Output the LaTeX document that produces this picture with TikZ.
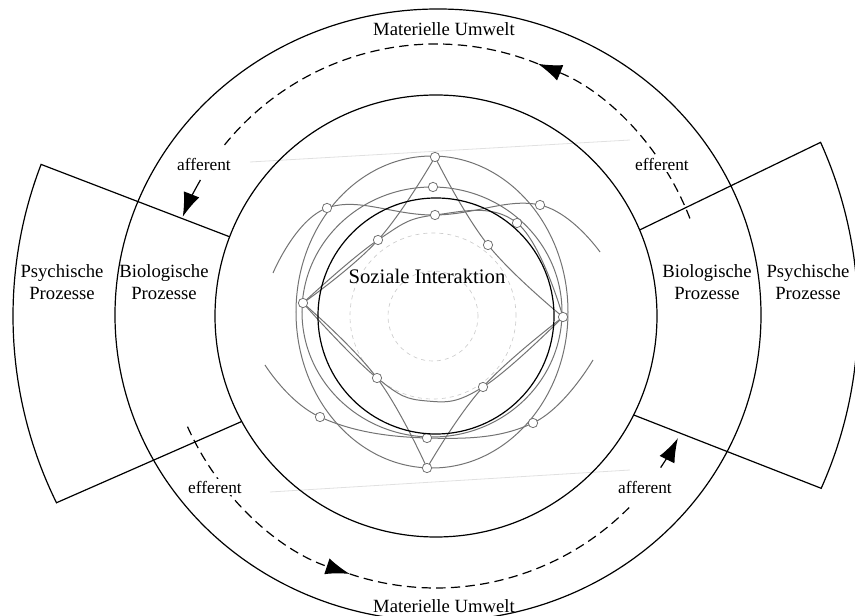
\documentclass[tikz,border=0pt]{standalone}
\usepackage{fontspec}
\setmainfont{Liberation Serif}
\usetikzlibrary{arrows.meta,positioning}

\begin{document}
\begin{tikzpicture}[x=0.75pt, y=0.75pt, line width=0.9pt,
    every node/.style={font=\fontsize{14}{17}\selectfont, align=center},
    flowlbl/.style={font=\fontsize{13}{15}\selectfont, fill=white, inner sep=1pt},
    flowline/.style={dash pattern=on 7pt off 4pt},
    headed/.style={-{Latex[length=18pt, width=12.5pt]}},
    webline/.style={black!55, line width=0.75pt},
    webknot/.style={draw=black!55, fill=white, circle, inner sep=0pt, minimum size=7pt, line width=0.6pt}]
    \useasboundingbox (-436,-300) rectangle (419,316);

    % scanned interaction web
    \draw[black!12, line width=0.6pt] (-186,154) -- (194,176);
    \draw[black!12, line width=0.6pt] (-166,-176) -- (194,-154);
    \draw[black!20, dashed, line width=0.5pt] (-3,0) circle[radius=83];
    \draw[black!20, dashed, line width=0.5pt] (-3,0) circle[radius=45];
    \draw[webline] (-4,4) ellipse[x radius=136, y radius=156];
    \draw[webline] (-4,4) ellipse[x radius=130, y radius=125];
    \draw[webline] plot[smooth, tension=0.7] coordinates {(-163,43) (-109,108) (-1,101) (104,111) (164,64)};
    \draw[webline] plot[smooth, tension=0.7] coordinates {(-171,-49) (-116,-101) (-9,-122) (97,-107) (157,-44)};
    \draw[webline] plot[smooth, tension=0.7] coordinates {(-1,159) (-58,76) (-133,13)};
    \draw[webline] plot[smooth, tension=0.7] coordinates {(-1,159) (52,71) (127,-1)};
    \draw[webline] plot[smooth, tension=0.7] coordinates {(-9,-152) (-59,-62) (-133,13)};
    \draw[webline] plot[smooth, tension=0.7] coordinates {(-9,-152) (47,-71) (127,-1)};
    \draw[webline] plot[smooth, tension=0.7] coordinates {(-133,13) (-58,76) (-1,101) (81,93) (127,-1)};
    \draw[webline] plot[smooth, tension=0.7] coordinates {(-133,13) (-59,-62) (-9,-85) (47,-71) (127,-1)};
    \foreach \p in {(-1,159),(-3,129),(-109,108),(104,111),(-58,76),(52,71),(-133,13),(127,-1),
                    (-59,-62),(47,-71),(-116,-101),(97,-107),(-9,-122),(-9,-152),(-1,101),(81,93)}
        \node[webknot] at \p {};

    % rings
    \draw (2,1) ellipse[x radius=323, y radius=306];
    \draw (0,0) circle[radius=221];
    \draw (0,0) circle[radius=118];

    % side sectors
    \draw (159:221) -- (159:423) arc[start angle=159, end angle=206.2, radius=423] -- (208.5:221);
    \draw (22.9:221) -- (24.3:422) arc[start angle=24.3, end angle=-24.1, radius=422] -- (-26.6:221);

    \node (umweltTop) at (8,287) {Materielle Umwelt};
    \node (umweltBot) at (8,-290) {Materielle Umwelt};
    \node[font=\fontsize{15.5}{18}\selectfont] (sozial) at (-9,40) {Soziale Interaktion};
    \node (psychL) at (-374,34) {Psychische\\Prozesse};
    \node (bioL) at (-272,34) {Biologische\\Prozesse};
    \node (bioR) at (271,34) {Biologische\\Prozesse};
    \node (psychR) at (372,34) {Psychische\\Prozesse};

    % flows through the environment
    \draw[flowline, headed] (21:272) arc[start angle=21, end angle=68, radius=272];
    \draw[flowline] (68:272) arc[start angle=68, end angle=142, radius=272];
    \draw[flowline, headed] (204:272) arc[start angle=204, end angle=251.5, radius=272];
    \draw[flowline] (251.5:272) arc[start angle=251.5, end angle=316, radius=272];

    \node[flowlbl] (affL) at (-232,152) {afferent};
    \node[flowlbl] (effR) at (226,152) {efferent};
    \node[flowlbl] (effL) at (-221,-171) {efferent};
    \node[flowlbl] (affR) at (209,-171) {afferent};

    \coordinate (affLin) at (150:272);
    \coordinate (affRin) at (326:271);
    \draw[headed] (affLin) arc[start angle=150, end angle=158.6, radius=272];
    \draw[headed] (affRin) arc[start angle=326, end angle=333.2, radius=271];
\end{tikzpicture}
\end{document}
